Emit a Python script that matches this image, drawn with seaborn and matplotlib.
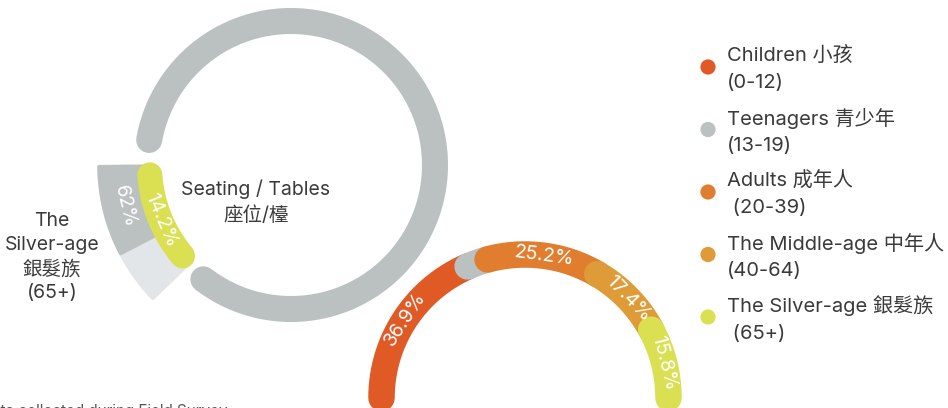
"""Seating / tables usage by age group - ring infographic."""
import numpy as np
import pandas as pd
import matplotlib.pyplot as plt
import seaborn as sns
from matplotlib.patches import Wedge

GROUPS = [
    "Children 小孩\n(0-12)",
    "Teenagers 青少年\n(13-19)",
    "Adults 成年人\n (20-39)",
    "The Middle-age 中年人\n(40-64)",
    "The Silver-age 銀髮族\n (65+)",
]
SHARES = [36.9, 4.7, 25.2, 17.4, 15.8]
SHARE_LABELS = ["36.9%", "", "25.2%", "17.4%", "15.8%"]
COLORS = ["#E05A26", "#BBC1C1", "#E07D2E", "#DE9B38", "#DAE052"]

SILVER_SPLIT = [62, 38]
SILVER_SPLIT_LABELS = ["62%", ""]
SILVER_SEAT_LABEL = "14.2%"

W, H = 948, 408
TEXT = "#3A3A3A"
LIGHT = "#E2E6E9"


def px(v):
    return v * 72 / 100


def Y(y_img):
    return H - y_img


def arc(ax, cx, cy, r, a0, a1, color, width, z):
    t = np.radians(np.linspace(a0, a1, 300))
    ax.plot(cx + r * np.cos(t), cy + r * np.sin(t), color=color,
            lw=px(width), solid_capstyle="round", zorder=z)


def arc_label(ax, cx, cy, r, ang, text, rot):
    t = np.radians(ang)
    ax.text(cx + r * np.cos(t), cy + r * np.sin(t), text, color="white",
            fontsize=14, ha="center", va="center",
            rotation=rot, rotation_mode="anchor", zorder=20)


def main():
    sns.set_theme(style="white")
    plt.rcParams["font.family"] = ["Inter", "Noto Sans CJK TC", "DejaVu Sans"]

    fig = plt.figure(figsize=(W / 100, H / 100), dpi=100)
    ax = fig.add_axes([0, 0, 1, 1])
    ax.set_xlim(0, W)
    ax.set_ylim(0, H)
    ax.axis("off")

    # seating / tables ring
    rcx, rcy = 291, Y(165)
    arc(ax, rcx, rcy, 144, 170, -127.5, COLORS[1], 26, 2)

    # silver-age wedge in the gap
    a0, a1 = 180.5, 224
    split = a0 + (a1 - a0) * SILVER_SPLIT[0] / 100
    ax.add_patch(Wedge((rcx, rcy), 192, a0, a1, width=48, facecolor=LIGHT,
                       edgecolor=LIGHT, lw=2.5, joinstyle="round", zorder=3))
    ax.add_patch(Wedge((rcx, rcy), 192, a0, split, width=48, facecolor=COLORS[1],
                       edgecolor=COLORS[1], lw=2.5, joinstyle="round", zorder=4))
    arc(ax, rcx, rcy, 141.5, 184, 220, COLORS[4], 25, 5)
    mid = (a0 + split) / 2
    arc_label(ax, rcx, rcy, 171, mid, SILVER_SPLIT_LABELS[0], mid - 270)
    arc_label(ax, rcx, rcy, 141.5, 203, SILVER_SEAT_LABEL, 203 - 270)

    ax.text(256, Y(202), "Seating / Tables\n座位/檯", color=TEXT, fontsize=14,
            ha="center", va="center", linespacing=1.5)
    ax.text(52, Y(257), "The\nSilver-age\n銀髮族\n(65+)", color=TEXT, fontsize=14,
            ha="center", va="center", linespacing=1.4)

    # age-group semicircle
    scx, scy = 525, Y(398)
    start = 180.0
    for i, (share, color, label) in enumerate(zip(SHARES, COLORS, SHARE_LABELS)):
        end = start - share / 100 * 180
        arc(ax, scx, scy, 143.5, start, end, color, 26.5, 6 + i)
        if label:
            m = (start + end) / 2
            arc_label(ax, scx, scy, 143.5, m, label, m - 90)
        start = end

    # legend
    leg = pd.DataFrame({
        "group": GROUPS,
        "x": [708] * len(GROUPS),
        "y": [Y(67 + i * 62.5) for i in range(len(GROUPS))],
    })
    sns.scatterplot(data=leg, x="x", y="y", hue="group", palette=COLORS,
                    s=120, edgecolor="none", legend=False, ax=ax, zorder=10)
    for _, row in leg.iterrows():
        ax.text(727, row["y"] - 2, row["group"], color=TEXT, fontsize=14.5,
                ha="left", va="center", linespacing=1.6)

    ax.text(-19, Y(404), "Data collected during Field Survey", color="#555555",
            fontsize=11, ha="left", va="top")

    ax.set_xlim(0, W)
    ax.set_ylim(0, H)
    fig.savefig("out.png", dpi=100, facecolor="white")
    plt.close(fig)


if __name__ == "__main__":
    main()
